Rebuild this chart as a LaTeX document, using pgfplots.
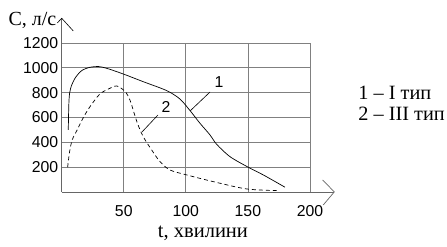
\documentclass[border=0pt]{standalone}
\usepackage{fontspec}
\setmainfont{Liberation Serif}
\newfontfamily\arial{Liberation Sans}
\usepackage{pgfplots}
\pgfplotsset{compat=1.18}
\begin{document}
\begin{tikzpicture}
\begin{axis}[
  scale only axis, width=248.3pt, height=149pt,
  xmin=0, xmax=200, ymin=0, ymax=1200,
  xtick={50,100,150,200}, ytick={200,400,600,800,1000,1200},
  grid=major, grid style={draw=gray, line width=0.7pt},
  axis line style={draw=none}, tick style={draw=none},
  clip=false,
  ticklabel style={font=\arial\fontsize{15.8}{18}\selectfont},
  /pgf/number format/assume math mode=true,
  /pgf/number format/1000 sep={},
  xticklabel style={yshift=-10pt},
]
% bounding box
\path (axis cs:-49.7,-443) rectangle (axis cs:310.4,1546);
% axes with arrows
\draw[gray!80!black, line width=0.7pt] (axis cs:0,0) -- (axis cs:219.6,0);
\draw[gray!80!black, line width=0.7pt] (axis cs:210.2,97) -- (axis cs:219.6,0) -- (axis cs:210.7,-105);
\draw[gray!80!black, line width=0.7pt] (axis cs:0,0) -- (axis cs:0,1399);
\draw[black, line width=0.6pt] (axis cs:-3.5,1361) -- (axis cs:0,1399) -- (axis cs:9.3,1297);
% curve 1
\addplot[black, line width=0.7pt, smooth, tension=0.5] coordinates {
(5.3,500) (5.9,741) (7.2,835) (10.7,915) (16.1,977) (22.8,1004) (29.5,1010)
(36.2,996) (49.6,950) (65.7,888) (84.6,816) (95.3,748) (103.4,655)
(111.4,553) (119.5,459) (124.8,384) (135.6,284) (150.3,199) (162.4,137) (179.9,38)
};
% curve 2
\addplot[black, line width=0.7pt, dash pattern=on 4pt off 3pt, smooth, tension=0.5] coordinates {
(4.8,199) (6.3,320) (8.5,420) (12.5,500) (17.5,600) (22.8,687) (30.8,789) (38.9,835)
(44.3,854) (51,810) (55,740) (58.5,630) (61.5,540) (65.7,445) (72.5,338)
(79.2,244) (87.2,177) (100.7,137) (122.1,83) (149,24) (173.2,11)
};
% leaders
\draw[black, line width=0.6pt] (axis cs:119.5,805) -- (axis cs:103.4,652);
\draw[black, line width=0.6pt] (axis cs:77.6,620) -- (axis cs:64.7,483);
\node[font=\arial\fontsize{15.8}{18}\selectfont, inner sep=0pt] at (axis cs:126.7,886) {1};
\node[font=\arial\fontsize{15.8}{18}\selectfont, inner sep=0pt] at (axis cs:84.0,684) {2};
% labels
\node[anchor=base west, inner sep=0pt, font=\fontsize{20}{24}\selectfont] at (axis cs:-43.0,1337) {C, л/с};
\node[anchor=base, inner sep=0pt, font=\fontsize{20.5}{24}\selectfont] at (axis cs:113.8,-368) {t, хвилини};
\node[anchor=base west, inner sep=0pt, font=\fontsize{20.3}{24}\selectfont] at (axis cs:238.9,746.6) {1 – I тип};
\node[anchor=base west, inner sep=0pt, font=\fontsize{20.3}{24}\selectfont] at (axis cs:238.9,571.8) {2 – III тип};
\end{axis}
\end{tikzpicture}
\end{document}
